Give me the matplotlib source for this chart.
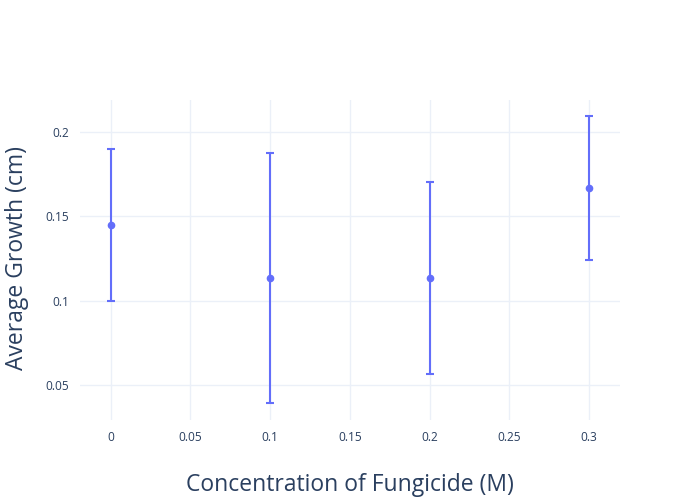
import matplotlib
matplotlib.use("Agg")
import matplotlib.pyplot as plt

concentration = [0, 0.1, 0.2, 0.3]
avg_growth = [0.145, 0.1133, 0.1133, 0.1667]
error = [0.045, 0.074, 0.0567, 0.0427]

xticks = [0, 0.05, 0.1, 0.15, 0.2, 0.25, 0.3]
xtick_labels = ["0", "0.05", "0.1", "0.15", "0.2", "0.25", "0.3"]
yticks = [0.05, 0.1, 0.15, 0.2]
ytick_labels = ["0.05", "0.1", "0.15", "0.2"]

plt.rcParams['font.family'] = ['Open Sans', 'DejaVu Sans']
txt = '#2a3f5f'
color = '#636efa'

fig = plt.figure(figsize=(7, 5), dpi=100)
ax = fig.add_axes([80/700, 80/500, 540/700, 320/500])
ax.errorbar(concentration, avg_growth, yerr=error, fmt='o', color=color,
            markersize=4.5, elinewidth=1.5, capsize=3, capthick=1.5, zorder=3)

ax.set_xlim(-0.0192, 0.3193)
ax.set_ylim(0.0295, 0.2188)
ax.set_xticks(xticks)
ax.set_xticklabels(xtick_labels)
ax.set_yticks(yticks)
ax.set_yticklabels(ytick_labels)
ax.grid(True, color='#ebf0f8', linewidth=1)
ax.set_axisbelow(True)
for s in ax.spines.values():
    s.set_visible(False)
ax.tick_params(length=0, labelsize=8.6, colors=txt, pad=8)

fig.text(350/700, 1 - 485/500, "Concentration of Fungicide (M)", ha='center', va='center',
         fontsize=16.5, color=txt)
fig.text(17/700, 1 - 258/500, "Average Growth (cm)", ha='center', va='center',
         rotation=90, fontsize=16.5, color=txt)

fig.savefig("out.png", dpi=100, facecolor='white')
